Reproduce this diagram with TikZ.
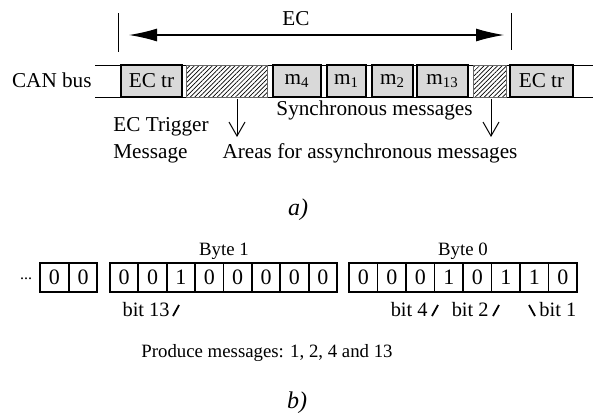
\documentclass[tikz,border=0pt]{standalone}
\usepackage{fontspec}
\setmainfont{Liberation Serif}
\usetikzlibrary{arrows.meta,patterns.meta}

\tikzset{
  msgbox/.style={draw, line width=1pt, fill=black!15, minimum height=16pt, inner sep=0pt},
  asyncbox/.style={draw=black!60, line width=0.4pt, minimum height=16pt, inner sep=0pt,
    pattern={Lines[angle=45,distance=1.6pt,line width=0.35pt]}},
  bitcell/.style={draw, line width=0.9pt, minimum width=14.225pt, minimum height=14.5pt,
    inner sep=0pt, font=\fontsize{11}{13}\selectfont},
  toptext/.style={inner sep=0pt, font=\fontsize{10.6}{13.5}\selectfont},
  bytetext/.style={inner sep=0pt, font=\fontsize{9.4}{11}\selectfont},
  bittext/.style={inner sep=0pt, font=\fontsize{10.2}{12}\selectfont},
  parttext/.style={inner sep=0pt, font=\fontsize{12}{14}\selectfont\itshape},
  bittick/.style={line width=0.9pt},
  downarrow/.style={line width=0.5pt, -{Straight Barb[length=7pt,width=8pt]}}
}

\begin{document}
\begin{tikzpicture}[x=0.5pt, y=-0.5pt]
  \useasboundingbox (0,0) rectangle (593,414);

  % ==== EC PERIOD ====
  \coordinate (markL) at (118,13);
  \coordinate (markR) at (511,13);
  \draw[line width=0.5pt] (markL) -- ++(0,39);
  \draw[line width=0.5pt] (markR) -- ++(0,37);
  \coordinate (ecL) at (129,35);
  \coordinate (ecR) at (504,35);
  \draw[line width=0.6pt, {Latex[length=14pt,width=6.5pt]}-{Latex[length=14pt,width=6.5pt]}] (ecL) -- (ecR);
  \node[toptext, anchor=base] (ec) at (296,25) {EC};

  % ==== CAN BUS ====
  \node[toptext, anchor=base east] (canbus) at (92,87) {CAN bus};
  \draw[line width=0.5pt] (95,65) -- (593,65);
  \draw[line width=0.5pt] (95,97) -- (593,97);

  \node[msgbox, minimum width=30.5pt, toptext, inner sep=0pt] (ectrA) at (151.5,81) {EC tr};
  \node[asyncbox, minimum width=40.5pt] (asyncA) at (226.5,81) {};
  \node[msgbox, minimum width=24pt, toptext] (mFour) at (297,81) {m\textsubscript{4}};
  \node[msgbox, minimum width=19.5pt, toptext] (mOne) at (346.5,81) {m\textsubscript{1}};
  \node[msgbox, minimum width=20.5pt, toptext] (mTwo) at (392.5,81) {m\textsubscript{2}};
  \node[msgbox, minimum width=25.5pt, toptext] (mThirteen) at (442.5,81) {m\textsubscript{13}};
  \node[asyncbox, minimum width=16.5pt] (asyncB) at (489.5,81) {};
  \node[msgbox, minimum width=31.5pt, toptext] (ectrB) at (541.5,81) {EC tr};

  % ==== LABELS UNDER THE BUS ====
  \coordinate (downA) at (237,137);
  \coordinate (downB) at (491,137);
  \draw[downarrow, shorten <=1pt] (downA |- asyncA.south) -- (downA);
  \draw[downarrow, shorten <=1pt] (downB |- asyncB.south) -- (downB);
  \node[toptext, anchor=base] (sync) at (374.5,115) {Synchronous messages};
  \node[toptext, anchor=north west, align=left] (trigger) at (113,117) {EC Trigger\\Message};
  \node[toptext, anchor=base] (areas) at (370,158) {Areas for assynchronous messages};

  \node[parttext, anchor=base] (parta) at (298,215) {a)};

  % ==== BYTES ====
  \node[bytetext, anchor=base, font=\fontsize{8}{9}\selectfont] (dots) at (26,279) {...};
  \foreach \v [count=\i] in {0,0}
    \node[bitcell] (pre\i) at ({40+28.75*(\i-0.5)},277.5) {\v};
  \foreach \v [count=\i] in {0,0,1,0,0,0,0,0}
    \node[bitcell] (hi\i) at ({110+28.375*(\i-0.5)},277.5) {\v};
  \foreach \v [count=\i] in {0,0,0,1,0,1,1,0}
    \node[bitcell] (lo\i) at ({349+28.5*(\i-0.5)},277.5) {\v};
  \node[bytetext, anchor=base] (byteHi) at (224,255) {Byte 1};
  \node[bytetext, anchor=base] (byteLo) at (463,255) {Byte 0};

  % ==== BIT LABELS ====
  \node[bittext, anchor=base east] (bitThirteen) at (170,316) {bit 13};
  \node[bittext, anchor=base east] (bitFour) at (428,316) {bit 4};
  \node[bittext, anchor=base east] (bitTwo) at (489,316) {bit 2};
  \node[bittext, anchor=base west] (bitOne) at (539,316) {bit 1};
  \draw[bittick] (173,316) -- (179,305);
  \draw[bittick] (432,316) -- (438,305);
  \draw[bittick] (493,316) -- (499,305);
  \draw[bittick] (529,305) -- (535,316);

  \node[bytetext, anchor=base] (produce) at (267,357) {Produce messages: 1, 2, 4 and 13};
  \node[parttext, anchor=base] (partb) at (297,408) {b)};
\end{tikzpicture}
\end{document}
